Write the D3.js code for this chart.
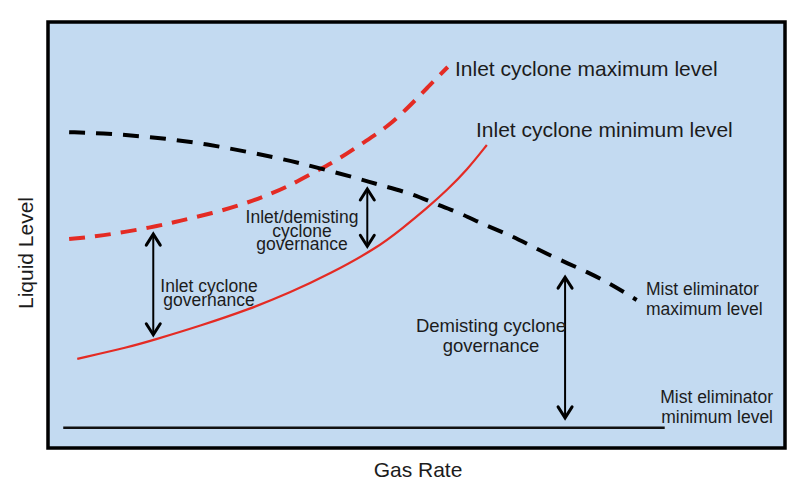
<!DOCTYPE html>
<html>
<head>
<meta charset="utf-8">
<script src="https://cdn.jsdelivr.net/npm/d3@7"></script>
<style>
  html, body { margin: 0; padding: 0; background: #ffffff; }
  svg { display: block; }
  text { font-family: "Liberation Sans", Arial, Helvetica, sans-serif; fill: #1c1c1c; }
</style>
</head>
<body>
<svg id="chart" width="800" height="489"></svg>
<script>
// ---- data (abstract units: gas rate 0-100, liquid level 0-100) ----
const mistMaxGas   = [3.0, 7.2, 14.0, 20.7, 27.5, 33.3, 37.9, 42.0, 45.1, 49.2, 52.3, 56.0, 59.3, 62.7, 65.9, 69.5, 73.2, 76.7, 79.9];
const mistMaxLevel = [73.9, 73.7, 72.8, 71.4, 69.2, 67.1, 65.0, 63.1, 61.5, 59.6, 57.3, 54.9, 52.1, 49.8, 46.9, 43.9, 41.1, 38.0, 34.5];

const inletMaxGas   = [3.0, 7.2, 14.4, 18.0, 22.5, 26.2, 29.3, 32.5, 36.0, 39.4, 42.8, 46.1, 48.9, 51.5, 54.3];
const inletMaxLevel = [48.8, 49.5, 51.6, 53.1, 54.9, 56.8, 58.7, 61.0, 64.3, 67.4, 71.4, 75.1, 79.6, 84.3, 89.2];

const inletMinGas   = [4.1, 11.2, 14.4, 20.7, 27.5, 32.9, 38.3, 44.7, 48.2, 51.5, 54.2, 56.9, 59.6];
const inletMinLevel = [20.7, 23.5, 25.1, 28.4, 32.4, 36.2, 40.6, 46.7, 51.4, 56.1, 60.3, 65.0, 70.9];

const mistMinGas   = [2.2, 83.7];
const mistMinLevel = [4.5, 4.5];

// governance arrows: gas position, lower level, upper level
const arrowGas  = [14.4, 43.4, 70.2];
const arrowLow  = [26.1, 46.9, 6.6];
const arrowHigh = [50.2, 60.8, 40.1];

const xLabel = "Gas Rate";
const yLabel = "Liquid Level";

// ---- drawing ----
const svg = d3.select("#chart");
const x = d3.scaleLinear().domain([0, 100]).range([47, 785]);
const y = d3.scaleLinear().domain([0, 100]).range([447, 21]);

svg.append("rect")
  .attr("x", 48).attr("y", 22).attr("width", 737).attr("height", 426)
  .attr("fill", "#c3daf1").attr("stroke", "#000").attr("stroke-width", 3.5);

const zip = (xs, ys) => xs.map((v, i) => [v, ys[i]]);
const line = d3.line().x(d => x(d[0])).y(d => y(d[1])).curve(d3.curveBasis);

const red = "#e42b24";

// mist eliminator minimum level
svg.append("path").attr("d", line(zip(mistMinGas, mistMinLevel)))
  .attr("fill", "none").attr("stroke", "#111").attr("stroke-width", 2.5);

// inlet cyclone minimum level (solid red)
svg.append("path").attr("d", line(zip(inletMinGas, inletMinLevel)))
  .attr("fill", "none").attr("stroke", red).attr("stroke-width", 2.2);

// inlet cyclone maximum level (dashed red)
svg.append("path").attr("d", line(zip(inletMaxGas, inletMaxLevel)))
  .attr("fill", "none").attr("stroke", red).attr("stroke-width", 4)
  .attr("stroke-dasharray", "16 10");

// mist eliminator maximum level (dashed black)
svg.append("path").attr("d", line(zip(mistMaxGas, mistMaxLevel)))
  .attr("fill", "none").attr("stroke", "#000").attr("stroke-width", 4)
  .attr("stroke-dasharray", "16 11");

// double arrows
const arrows = arrowGas.map((g, i) => ({ g, lo: arrowLow[i], hi: arrowHigh[i] }));
const ag = svg.append("g");
arrows.forEach(a => {
  const ax = x(a.g), yt = y(a.hi), yb = y(a.lo);
  ag.append("line").attr("x1", ax).attr("x2", ax).attr("y1", yt + 1).attr("y2", yb - 1)
    .attr("stroke", "#000").attr("stroke-width", 2);
  ag.append("path").attr("d", `M${ax - 7},${yt + 12} L${ax},${yt + 1} L${ax + 7},${yt + 12}`)
    .attr("fill", "none").attr("stroke", "#000").attr("stroke-width", 3).attr("stroke-linecap", "round");
  ag.append("path").attr("d", `M${ax - 7},${yb - 12} L${ax},${yb - 1} L${ax + 7},${yb - 12}`)
    .attr("fill", "none").attr("stroke", "#000").attr("stroke-width", 3).attr("stroke-linecap", "round");
});

// labels
function label(lines, px, py, size, anchor, lh) {
  const t = svg.append("text").attr("font-size", size).attr("text-anchor", anchor);
  lines.forEach((s, i) => {
    t.append("tspan").attr("x", px).attr("y", py + i * lh).text(s);
  });
}
label(["Inlet cyclone maximum level"], 455, 76, 21, "start", 0);
label(["Inlet cyclone minimum level"], 476, 137, 21, "start", 0);
label(["Mist eliminator", "maximum level"], 646, 295, 17.5, "start", 20);
label(["Mist eliminator", "minimum level"], 773, 403, 17.5, "end", 19.5);
label(["Demisting cyclone", "governance"], 491, 332, 18.5, "middle", 20);
label(["Inlet cyclone", "governance"], 209, 292, 17.5, "middle", 14);
label(["Inlet/demisting", "cyclone", "governance"], 302, 223, 17.5, "middle", 13.5);

svg.append("text").attr("x", 418).attr("y", 477).attr("font-size", 21)
  .attr("text-anchor", "middle").text(xLabel);
svg.append("text").attr("transform", "translate(33,253) rotate(-90)").attr("font-size", 21)
  .attr("text-anchor", "middle").text(yLabel);
</script>
</body>
</html>
